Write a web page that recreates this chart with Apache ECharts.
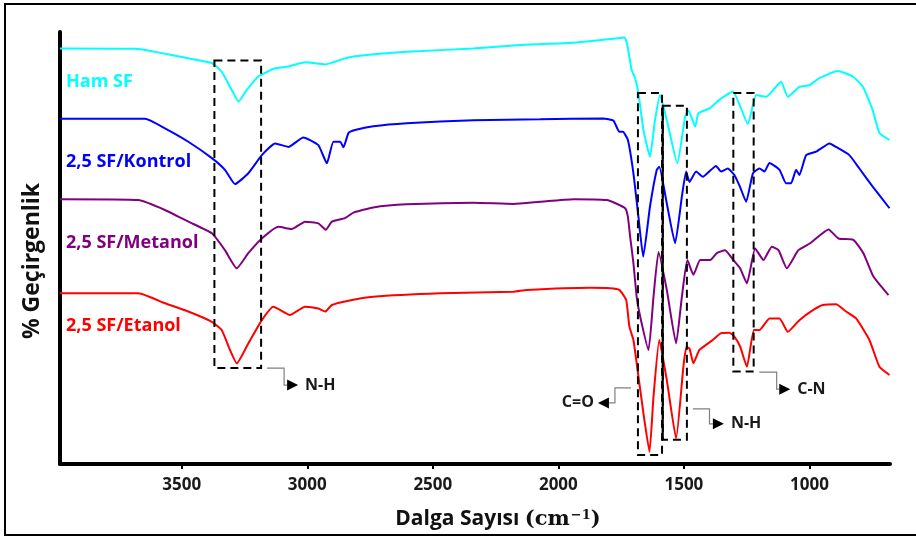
<!DOCTYPE html>
<html>
<head>
<meta charset="utf-8">
<script src="https://cdn.jsdelivr.net/npm/echarts@6/dist/echarts.min.js"></script>
<style>
html,body{margin:0;padding:0;background:#fff;}
#chart{width:916px;height:537px;}
</style>
</head>
<body>
<div id="chart"></div>
<script>
// ---- Data (wavenumber in cm^-1, transmittance in %, stacked/offset) ----
const seriesNames = ['Ham SF', '2,5 SF/Kontrol', '2,5 SF/Metanol', '2,5 SF/Etanol'];
const tickValues = [1000, 1500, 2000, 2500, 3000, 3500];

const hamX = [3985,3686,3606,3475,3380,3341,3301,3274,3241,3195,3128,3075,3009,2929,2850,2810,2604,2340,2152,1941,1770,1737,1727,1708,1694,1681,1661,1635,1615,1595,1568,1526,1495,1482,1455,1442,1398,1359,1305,1245,1212,1172,1113,1086,1040,1000,960,887,827,787,748,721,681];
const hamY = [96.2,96.1,95.4,93.9,92.8,90.8,86.6,83.9,86.6,89.7,91.6,92.0,93.0,92.5,93.9,94.4,95.4,96.2,97.0,97.5,98.5,98.7,97.5,91.2,89.3,85.8,77.3,71.1,79.6,85.4,79.6,69.6,80.4,81.9,78.1,81.2,82.3,84.3,86.2,78.7,85.4,85.0,88.5,85.0,87.3,87.7,89.3,91.0,89.7,87.3,81.9,76.6,75.0];

const kontrolX = [3985,3646,3567,3474,3380,3328,3288,3235,3181,3128,3075,3016,2956,2922,2896,2869,2856,2836,2810,2737,2604,2338,2073,1821,1781,1757,1743,1723,1701,1681,1662,1635,1608,1598,1568,1535,1508,1491,1478,1451,1425,1372,1352,1325,1299,1276,1252,1225,1199,1179,1159,1119,1093,1073,1053,1040,1013,973,920,894,841,801,748,681];
const kontrolY = [79.9,79.9,77.7,74.6,70.8,68.1,64.8,67.3,71.5,74.2,73.4,75.6,73.8,69.6,74.6,74.6,73.3,76.6,77.3,78.2,78.9,79.6,79.8,80.0,79.5,76.9,76.9,75.0,67.3,57.2,48.0,59.6,68.1,68.8,60.3,51.1,61.9,67.7,65.3,67.7,66.5,69.0,67.7,68.4,66.9,64.1,60.7,67.3,68.4,67.7,69.7,68.1,65.0,65.0,68.1,66.9,71.5,72.3,74.2,73.4,71.5,68.4,64.2,59.2];

const metanolX = [3985,3673,3567,3474,3380,3328,3281,3235,3181,3115,3062,3009,2956,2926,2902,2850,2816,2737,2604,2338,2179,2073,1940,1807,1770,1734,1723,1714,1701,1688,1674,1641,1621,1601,1568,1531,1508,1486,1462,1435,1395,1369,1336,1303,1276,1249,1216,1183,1150,1123,1090,1044,997,924,884,825,785,745,685];
const metanolY = [61.3,61.1,58.8,56.1,53.4,49.5,45.3,48.8,52.2,54.9,54.4,56.1,55.7,54.2,56.1,56.9,58.2,59.4,60.1,60.5,60.2,60.7,61.3,61.1,60.3,59.2,57.2,52.6,46.5,38.7,34.1,26.4,38.7,49.1,40.3,27.9,38.7,47.2,43.8,47.2,47.2,48.8,49.5,47.2,45.3,41.8,49.9,47.2,50.3,49.5,45.3,49.5,51.1,54.3,52.2,51.9,48.8,43.4,39.1];

const etanolX = [3985,3673,3567,3474,3380,3341,3308,3281,3235,3181,3135,3069,3009,2956,2929,2902,2836,2737,2471,2179,2126,1874,1794,1757,1730,1717,1701,1688,1661,1637,1621,1598,1568,1531,1502,1490,1478,1462,1438,1385,1352,1319,1299,1276,1249,1221,1199,1159,1119,1086,1040,986,947,894,854,814,761,721,681];
const etanolY = [39.5,39.5,37.2,35.3,32.9,31.0,26.4,23.3,27.9,33.3,36.4,34.5,36.4,36.0,35.3,36.8,37.8,38.7,39.5,39.9,40.3,40.8,40.7,40.3,38.0,31.8,28.7,23.3,11.7,2.8,15.6,28.7,19.4,5.9,22.5,27.0,26.8,23.3,26.4,28.7,30.3,30.4,29.5,27.2,22.5,31.0,31.0,33.7,33.7,30.6,33.3,35.6,36.8,37.0,35.3,33.7,28.7,22.5,20.6];

// Band annotations (data coordinates: wavenumber range, transmittance range)
const bandLabels = ['N-H', 'C=O', 'N-H', 'C-N'];
const bandX1 = [3370, 1683, 1584, 1303];
const bandX2 = [3184, 1587, 1488, 1222];
const bandTop = [93.4, 85.9, 82.9, 85.9];
const bandBottom = [22.2, 2.1, 5.6, 21.4];

// ---- Styling ----
const colors = ['#00FFFF', '#0000FF', '#800080', '#FF0000'];
const FONT = 'Open Sans';

const zip = (xs, ys) => xs.map((v, i) => [v, ys[i]]);
const allData = [zip(hamX, hamY), zip(kontrolX, kontrolY), zip(metanolX, metanolY), zip(etanolX, etanolY)];

const chart = echarts.init(document.getElementById('chart'), null, {renderer: 'canvas'});

const option = {
  backgroundColor: '#fff',
  animation: false,
  grid: {left: 60, right: 26, top: 32, bottom: 73, containLabel: false},
  xAxis: {
    type: 'value',
    inverse: true,
    min: 679,
    max: 3985,
    splitLine: {show: false},
    axisLine: {show: true, onZero: false, lineStyle: {color: '#000', width: 4}},
    axisTick: {show: true, customValues: tickValues, length: 5, lineStyle: {color: '#000', width: 2}},
    axisLabel: {customValues: tickValues, formatter: v => String(v), color: '#1a1a1a', fontFamily: FONT, fontWeight: 'bold', fontSize: 17, margin: 13},
    name: '{a|Dalga Sayısı }{b|(cm}{c|−1}{b|)}',
    nameLocation: 'middle',
    nameGap: 45,
    nameTextStyle: {
      padding: [0, 0, 0, 46],
      rich: {
        a: {fontFamily: FONT, fontWeight: 'bold', fontSize: 21, color: '#111'},
        b: {fontFamily: 'DejaVu Serif', fontWeight: 'bold', fontSize: 21, color: '#111'},
        c: {fontFamily: 'DejaVu Serif', fontWeight: 'bold', fontSize: 13, color: '#111', verticalAlign: 'top', padding: [0, 0, 0, 1]}
      }
    }
  },
  yAxis: {
    type: 'value',
    min: 0,
    max: 100,
    splitLine: {show: false},
    axisLine: {show: true, lineStyle: {color: '#000', width: 4}},
    axisTick: {show: false},
    axisLabel: {show: false}
  },
  series: allData.map((d, i) => ({
    name: seriesNames[i],
    type: 'line',
    data: d,
    showSymbol: false,
    smooth: 0.15,
    lineStyle: {color: colors[i], width: 2},
    z: 2 + i
  }))
};
chart.setOption(option);

// ---- Annotations drawn through the chart's own coordinate conversion ----
function px(x, y) { return chart.convertToPixel({gridIndex: 0}, [x, y]); }

const graphics = [];
// outer frame
graphics.push({type: 'rect', shape: {x: 5, y: 4, width: 930, height: 531}, style: {fill: 'none', stroke: '#000', lineWidth: 2}, silent: true});

// y axis title
graphics.push({type: 'text', x: 32, y: 261, rotation: Math.PI / 2,
  style: {text: '% Geçirgenlik', fill: '#111', font: 'bold 23px "' + FONT + '"', align: 'center', verticalAlign: 'middle', textAlign: 'center', textVerticalAlign: 'middle'}, silent: true});

// series labels
const labelY = [82, 162, 243, 326];
seriesNames.forEach((n, i) => {
  graphics.push({type: 'text', x: 66, y: labelY[i], style: {text: n, fill: colors[i], font: 'bold 18px "' + FONT + '"', textVerticalAlign: 'middle', verticalAlign: 'middle'}, silent: true});
});

// band boxes
const boxes = bandX1.map((x1, i) => {
  const p1 = px(x1, bandTop[i]);
  const p2 = px(bandX2[i], bandBottom[i]);
  return {l: p1[0], t: p1[1], r: p2[0], b: p2[1]};
});
boxes.forEach((bx, i) => {
  graphics.push({type: 'rect', shape: {x: bx.l, y: bx.t, width: bx.r - bx.l, height: bx.b - bx.t},
    style: {fill: 'none', stroke: '#000', lineWidth: 2, lineDash: [8, 5]}, z: 20, silent: true});
});
// solid left edge of the amide II box
graphics.push({type: 'line', shape: {x1: boxes[2].l, y1: boxes[2].t, x2: boxes[2].l, y2: boxes[2].b}, style: {stroke: '#000', lineWidth: 2}, z: 21, silent: true});

function arrow(ax, ay, pts, dir, label) {
  graphics.push({type: 'polyline', shape: {points: pts.map(p => [ax + p[0], ay + p[1]])}, style: {stroke: '#808080', lineWidth: 1.2, fill: 'none'}, z: 20, silent: true});
  const end = pts[pts.length - 1];
  const ex = ax + end[0], ey = ay + end[1];
  let tri, tx, align;
  if (dir > 0) { tri = [[ex, ey - 5.5], [ex + 11, ey], [ex, ey + 5.5]]; tx = ex + 18; align = 'left'; }
  else { tri = [[ex, ey - 5.5], [ex - 11, ey], [ex, ey + 5.5]]; tx = ex - 15; align = 'right'; }
  graphics.push({type: 'polygon', shape: {points: tri}, style: {fill: '#000'}, z: 20, silent: true});
  graphics.push({type: 'text', x: tx, y: ey, style: {text: label, fill: '#1a1a1a', font: 'bold 16px "' + FONT + '"', textAlign: align, align: align, textVerticalAlign: 'middle', verticalAlign: 'middle'}, z: 20, silent: true});
}
arrow(boxes[0].r, boxes[0].b, [[6, 0], [23, 0], [23, 17], [26, 17]], 1, bandLabels[0]);
arrow(boxes[1].l, boxes[1].b, [[-7, -67], [-23, -67], [-23, -52], [-29, -52]], -1, bandLabels[1]);
arrow(boxes[2].r, boxes[2].b, [[6, -31], [22.6, -31], [22.6, -16], [26, -16]], 1, bandLabels[2]);
arrow(boxes[3].r, boxes[3].b, [[5.6, 0.6], [23, 0.6], [23, 17.6], [25.6, 17.6]], 1, bandLabels[3]);

chart.setOption({graphic: graphics});
</script>
</body>
</html>
